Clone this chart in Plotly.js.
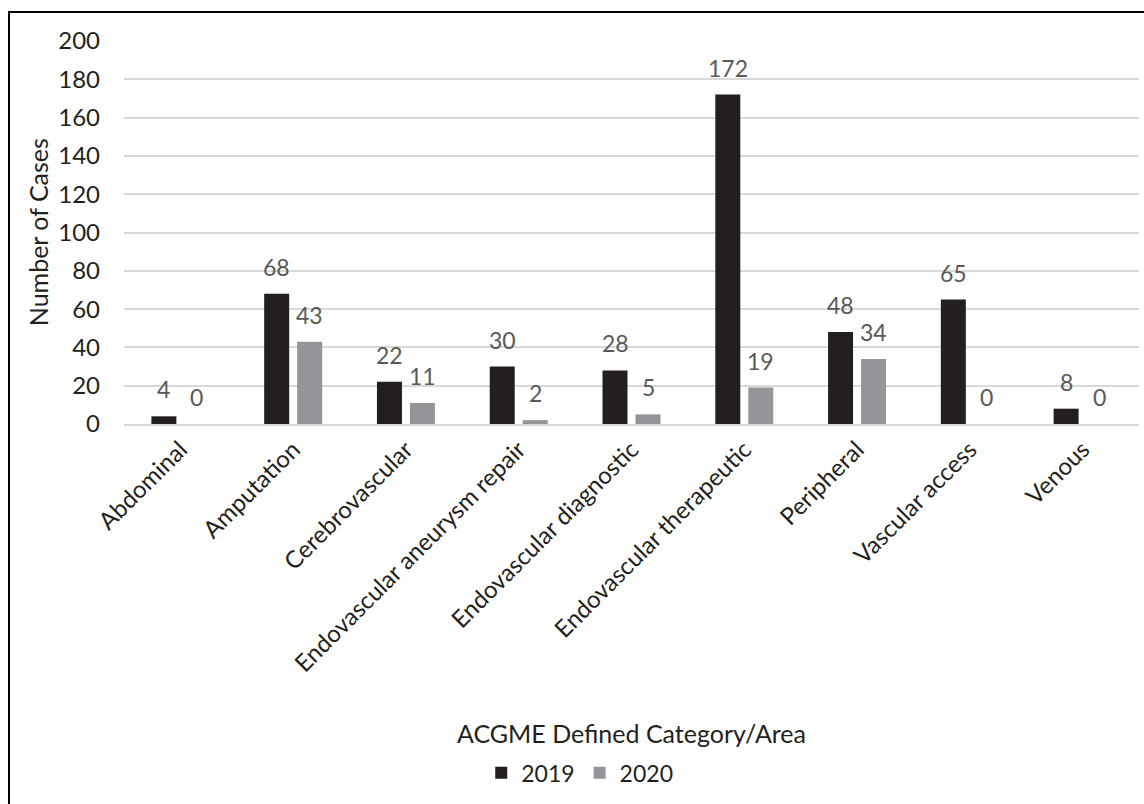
<!DOCTYPE html>
<html>
<head>
<meta charset="utf-8">
<script src="https://cdn.plot.ly/plotly-3.0.1.min.js"></script>
<style>
  html, body { margin: 0; padding: 0; background: #fff; overflow: hidden; }
  #wrap { position: relative; width: 1144px; height: 804px; overflow: hidden; }
  #chart { width: 1144px; height: 804px; }
  #frame { position: absolute; left: 8px; top: 11px; width: 1200px; height: 900px;
           border-left: 2px solid #000; border-top: 2px solid #000; pointer-events: none; }
</style>
</head>
<body>
<div id="wrap">
  <div id="chart"></div>
  <div id="frame"></div>
</div>
<script>
const categories = ["Abdominal", "Amputation", "Cerebrovascular", "Endovascular aneurysm repair",
  "Endovascular diagnostic", "Endovascular therapeutic", "Peripheral", "Vascular access", "Venous"];
const cases2019 = [4, 68, 22, 30, 28, 172, 48, 65, 8];
const cases2020 = [0, 43, 11, 2, 5, 19, 34, 0, 0];
const seriesNames = ["2019", "2020"];
const yTicks = [0, 20, 40, 60, 80, 100, 120, 140, 160, 180, 200];

const FONT = "Lato, 'Open Sans', sans-serif";
const DARK = "#231f20";
const LABEL = "#595959";

const traces = [
  { type: "bar", name: seriesNames[0], x: categories, y: cases2019,
    marker: { color: "#231f20" }, hoverinfo: "x+y" },
  { type: "bar", name: seriesNames[1], x: categories, y: cases2020,
    marker: { color: "#939598" }, hoverinfo: "x+y" }
];

const annotations = [];
[cases2019, cases2020].forEach((vals, s) => {
  vals.forEach((v, i) => {
    annotations.push({
      x: categories[i], y: v, xref: "x", yref: "y",
      text: String(v), showarrow: false,
      xshift: s === 0 ? -16.5 : 16.5, yshift: 11,
      yanchor: "bottom", xanchor: "center",
      font: { family: FONT, size: 23, color: LABEL }
    });
  });
});
annotations.push({
  text: "ACGME Defined Category/Area", xref: "paper", yref: "paper",
  x: 0.5, y: -0.807, xanchor: "center", yanchor: "middle", showarrow: false,
  font: { family: FONT, size: 25, color: DARK }
});
annotations.push({
  text: "Number of Cases", xref: "paper", yref: "paper", textangle: -90,
  x: -0.085, y: 0.5, xanchor: "center", yanchor: "middle", showarrow: false,
  font: { family: FONT, size: 25, color: DARK }
});

const layout = {
  width: 1144, height: 804,
  margin: { l: 124, r: 5, t: 41, b: 380 },
  paper_bgcolor: "#fff", plot_bgcolor: "#fff",
  barmode: "group", bargap: 0.415, bargroupgap: 0.242,
  font: { family: FONT, size: 24, color: DARK },
  showlegend: true,
  legend: { orientation: "h", x: 0.449, xanchor: "center", y: -0.911, yanchor: "middle",
    font: { family: FONT, size: 23, color: DARK }, traceorder: "normal" },
  xaxis: {
    type: "category", tickangle: -45, ticks: "", showgrid: false,
    showline: true, linecolor: "#d9d9d9", linewidth: 2,
    tickfont: { family: FONT, size: 24, color: DARK }, ticklabelstandoff: 0,
    zeroline: false, fixedrange: true
  },
  yaxis: {
    range: [0, 200], tickvals: yTicks, ticktext: yTicks.map(String),
    showgrid: true, gridcolor: "#d9d9d9", gridwidth: 2,
    zeroline: false, showline: false, ticks: "",
    tickfont: { family: FONT, size: 24, color: DARK }, ticklabelstandoff: 23,
    fixedrange: true
  },
  annotations: annotations
};

Plotly.newPlot("chart", traces, layout, { displayModeBar: false });
</script>
</body>
</html>
